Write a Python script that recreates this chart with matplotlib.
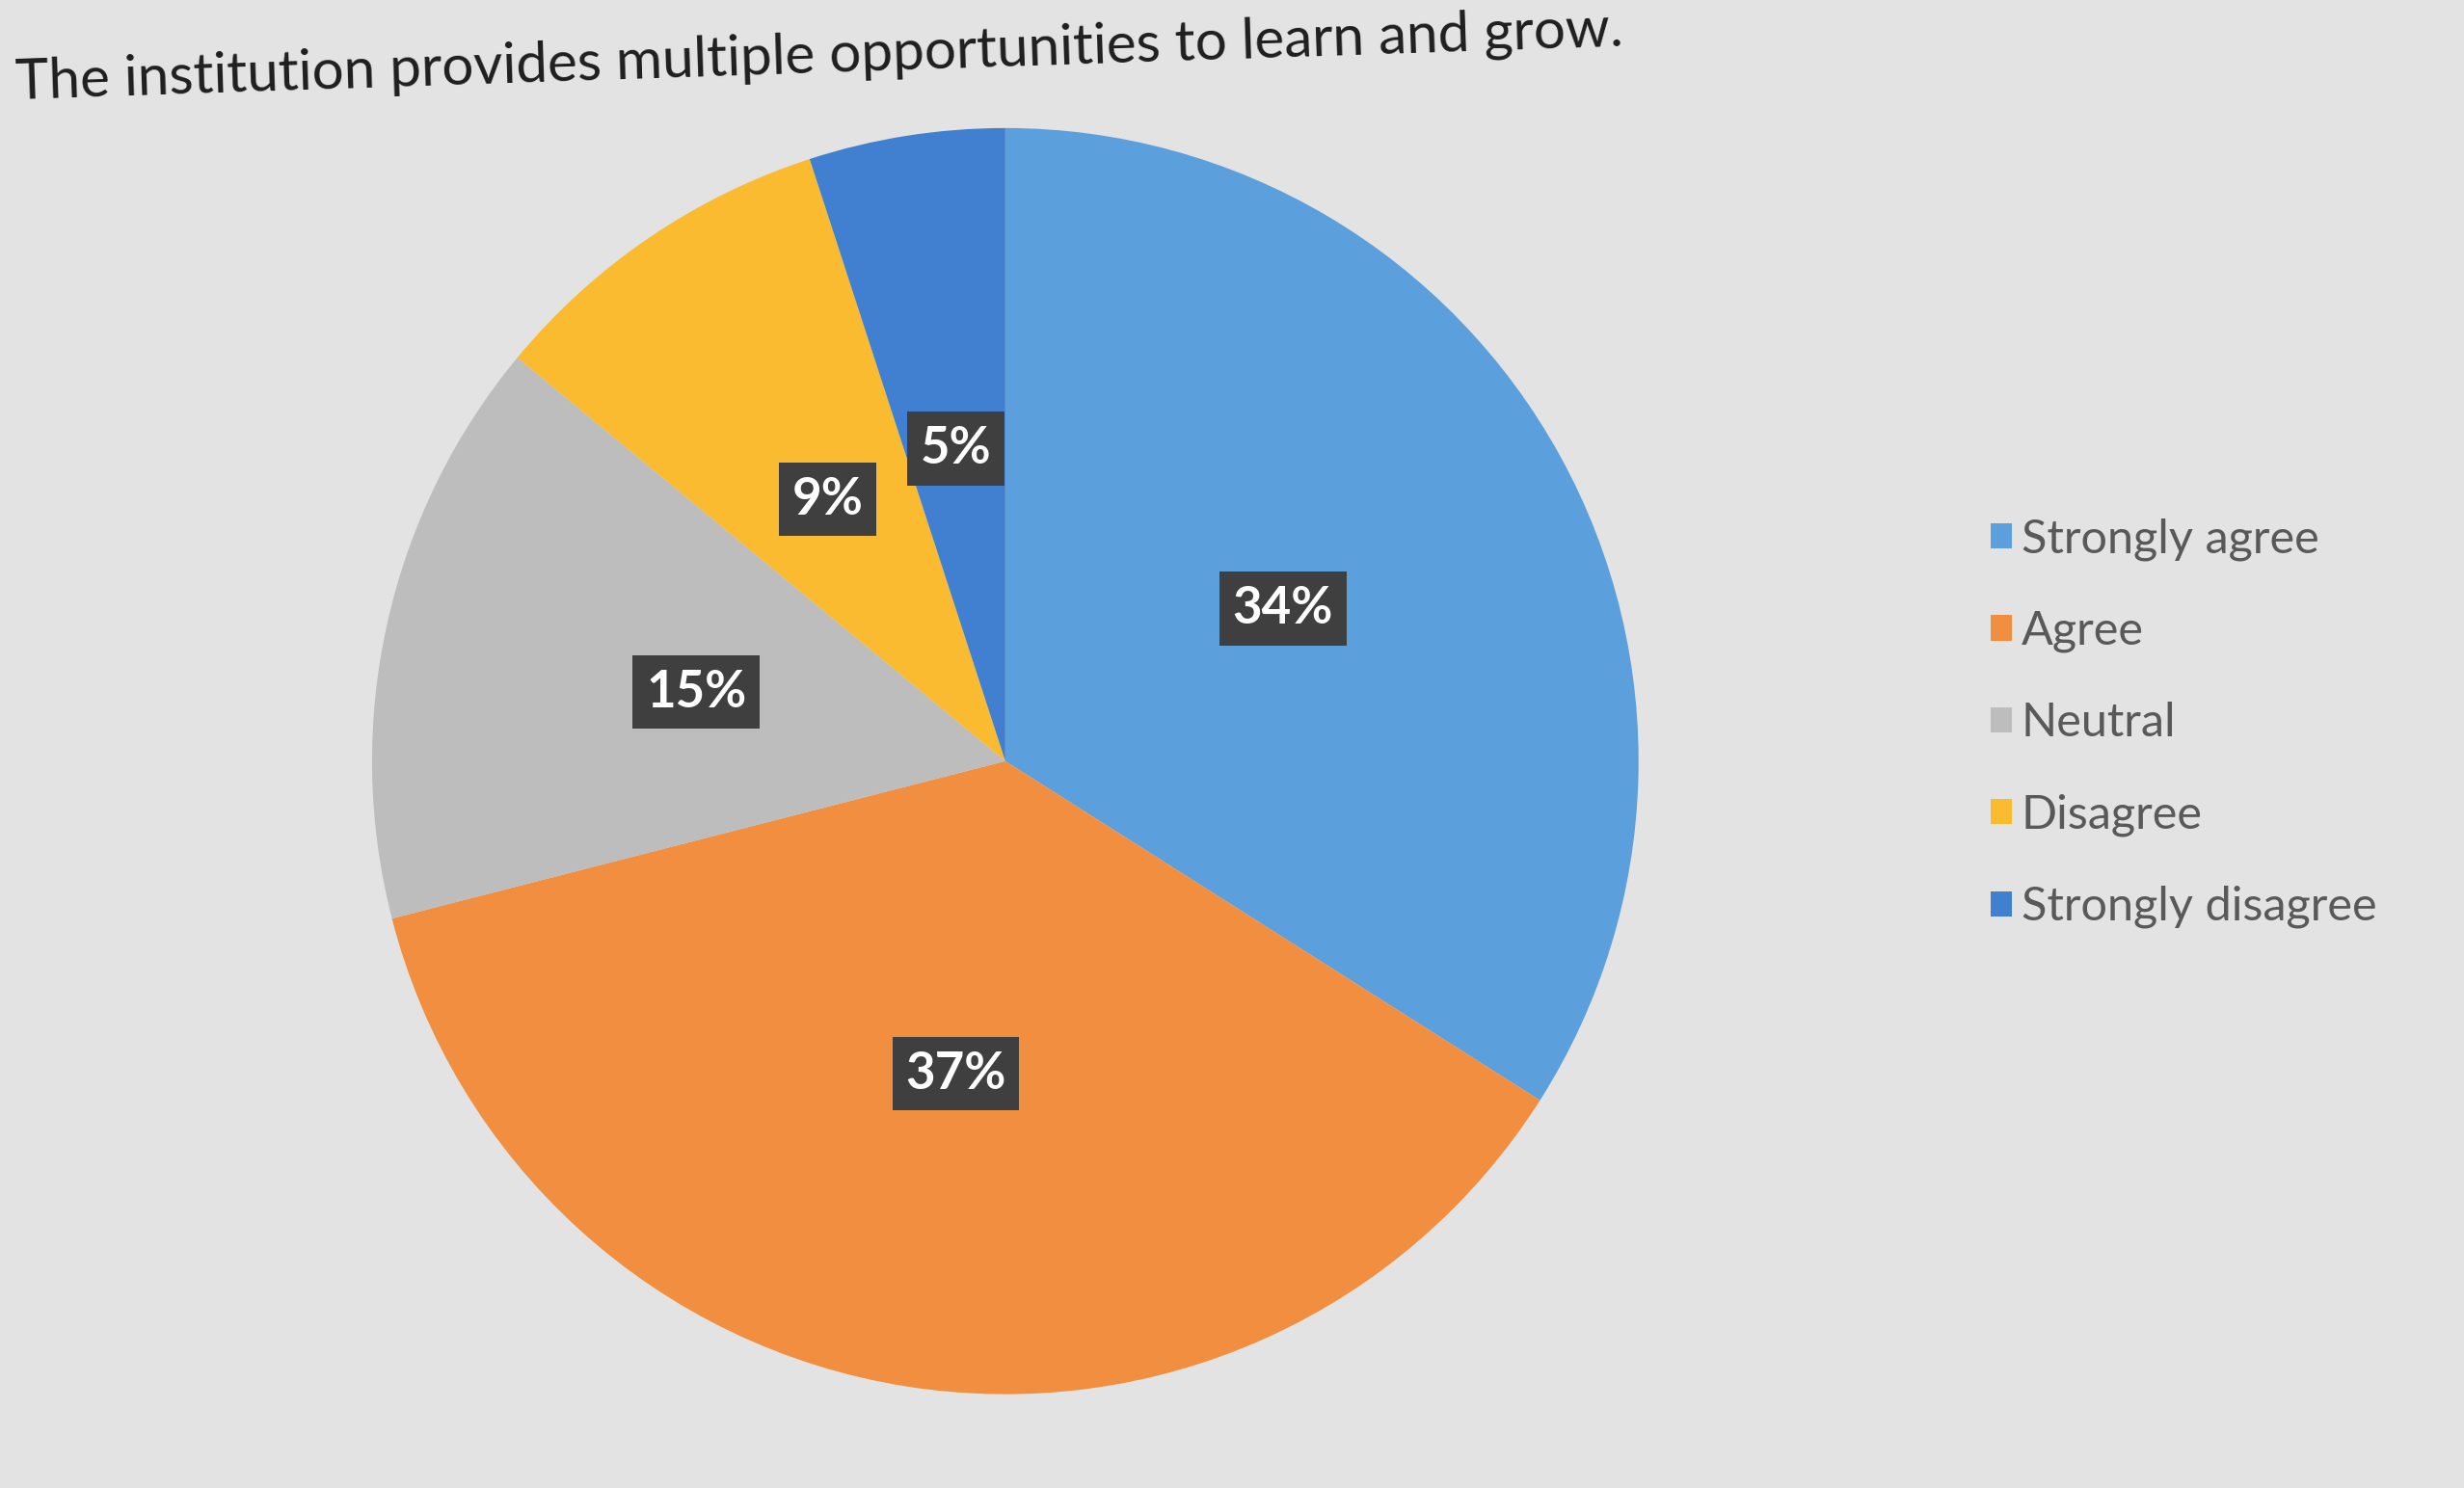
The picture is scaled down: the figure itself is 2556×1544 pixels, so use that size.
import matplotlib.pyplot as plt

# Survey responses (percent)
categories = ['Strongly agree', 'Agree', 'Neutral', 'Disagree', 'Strongly disagree']
shares = [34, 37, 15, 9, 5]
colors = ['#5b9fdc', '#f28e3f', '#bdbdbd', '#fbbb30', '#4180d0']

title = "The institution provides multiple opportunities to learn and grow."

plt.rcParams['font.family'] = ['Lato', 'DejaVu Sans']

fig = plt.figure(figsize=(25.56, 15.44), dpi=100, facecolor='#e3e3e3')

# square axes so the pie sits left of centre, legend on the right
ax = fig.add_axes([0.151, 0.063, 0.514, 0.851])
wedges, texts, autotexts = ax.pie(
    shares, colors=colors, startangle=90, counterclock=False,
    autopct='%.0f%%', pctdistance=0.5, labeldistance=None,
    wedgeprops=dict(linewidth=0),
)
for t in autotexts:
    t.set_color('white')
    t.set_fontsize(38)
    t.set_fontweight('bold')
    t.set_bbox(dict(boxstyle='square,pad=0.26', facecolor='#3f3f3f', edgecolor='none'))
ax.set_xlim(-1.0, 1.0)
ax.set_ylim(-1.0, 1.0)
ax.set_aspect('equal')

fig.text(0.006, 0.962, title, fontsize=42, color='#1e1e1e',
         ha='left', va='center', rotation=1.9)

leg = fig.legend(wedges, categories, loc='center left',
                 bbox_to_anchor=(0.808, 0.514), frameon=False,
                 fontsize=35, labelcolor='#595959',
                 handlelength=0.45, handleheight=0.45, handletextpad=0.2,
                 labelspacing=1.05, borderpad=0, borderaxespad=0)

plt.savefig('out.png', dpi=100, facecolor=fig.get_facecolor())
